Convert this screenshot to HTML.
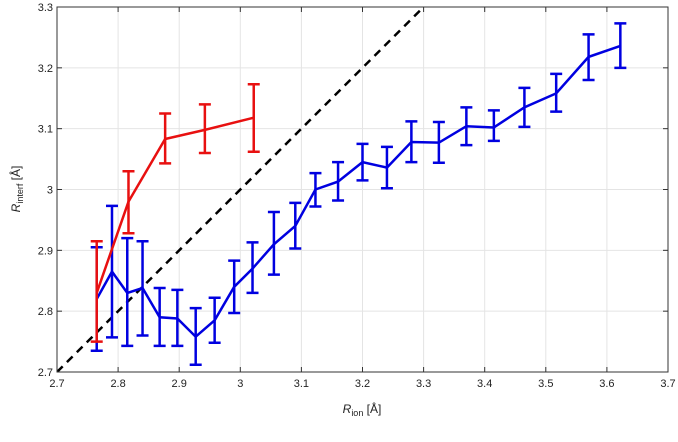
<!DOCTYPE html>
<html><head><meta charset="utf-8"><style>
body{margin:0;background:#fff;font-family:"Liberation Sans",sans-serif}
text{font-family:"Liberation Sans",sans-serif;fill:#222}
</style></head><body>
<svg id="chart" width="678" height="419" viewBox="0 0 678 419" xmlns="http://www.w3.org/2000/svg"></svg>
<script>
const xTicks=[2.7,2.8,2.9,3,3.1,3.2,3.3,3.4,3.5,3.6,3.7];
const xTickLabels=["2.7","2.8","2.9","3","3.1","3.2","3.3","3.4","3.5","3.6","3.7"];
const yTicks=[2.7,2.8,2.9,3,3.1,3.2,3.3];
const yTickLabels=["2.7","2.8","2.9","3","3.1","3.2","3.3"];
const blueX=[2.765,2.79,2.815,2.84,2.868,2.897,2.927,2.958,2.99,3.02,3.055,3.09,3.123,3.16,3.2,3.24,3.28,3.325,3.37,3.415,3.465,3.517,3.57,3.622];
const blueY=[2.82,2.865,2.83,2.838,2.79,2.788,2.758,2.785,2.84,2.87,2.91,2.94,3.0,3.013,3.045,3.036,3.078,3.077,3.104,3.102,3.135,3.158,3.218,3.236];
const blueLo=[2.735,2.757,2.743,2.76,2.743,2.743,2.712,2.748,2.797,2.83,2.86,2.903,2.972,2.982,3.015,3.002,3.045,3.044,3.073,3.08,3.103,3.128,3.18,3.2];
const blueHi=[2.905,2.973,2.92,2.915,2.838,2.835,2.805,2.822,2.883,2.913,2.963,2.978,3.027,3.045,3.075,3.07,3.112,3.111,3.135,3.13,3.167,3.19,3.255,3.273];
const redX=[2.765,2.817,2.877,2.942,3.022];
const redY=[2.83,2.98,3.083,3.098,3.118];
const redLo=[2.75,2.928,3.043,3.06,3.062];
const redHi=[2.915,3.03,3.125,3.14,3.173];
const X0=57,X1=668,Y0=372,Y1=7;
const sx=v=>X0+(v-2.7)/(3.7-2.7)*(X1-X0);
const sy=v=>Y0-(v-2.7)/(3.3-2.7)*(Y0-Y1);
const svg=document.getElementById('chart');
const NS='http://www.w3.org/2000/svg';
function mk(tag,at,parent){const e=document.createElementNS(NS,tag);for(const k in at)e.setAttribute(k,at[k]);(parent||svg).appendChild(e);return e;}
// grid
xTicks.forEach((t,i)=>{
  const g=mk('line',{x1:sx(t),x2:sx(t),y1:Y1,y2:Y0,stroke:'#e4e4e4','stroke-width':1});
  
  
  const tk=mk('line',{x1:sx(t),x2:sx(t),y1:Y0,y2:Y0-5,stroke:'#333'});
  
  
  const tk2=mk('line',{x1:sx(t),x2:sx(t),y1:Y1,y2:Y1+5,stroke:'#333'});
  
  
  const l=mk('text',{x:sx(t),y:Y0+15,'text-anchor':'middle','font-size':11});
  l.textContent=xTickLabels[i];
  
  
});
yTicks.forEach((t,i)=>{
  const g=mk('line',{x1:X0,x2:X1,y1:sy(t),y2:sy(t),stroke:'#e4e4e4','stroke-width':1});
  
  
  const tk=mk('line',{x1:X0,x2:X0+5,y1:sy(t),y2:sy(t),stroke:'#333'});
  
  
  const tk2=mk('line',{x1:X1,x2:X1-5,y1:sy(t),y2:sy(t),stroke:'#333'});
  
  
  const l=mk('text',{x:X0-4,y:sy(t)+4,'text-anchor':'end','font-size':11});
  l.textContent=yTickLabels[i];
  
  
});
// diagonal
const cp=mk('clipPath',{id:'clip'});mk('rect',{x:X0,y:Y1,width:X1-X0,height:Y0-Y1},cp);
const d=mk('line',{x1:sx(2.7),y1:sy(2.7),x2:sx(3.3),y2:sy(3.3),stroke:'#000','stroke-width':2.5,'stroke-dasharray':'8,6','clip-path':'url(#clip)'});


function series(xs,ys,lo,hi,color,name){
  const pts=xs.map((x,i)=>sx(x)+','+sy(ys[i])).join(' ');
  const pl=mk('polyline',{points:pts,fill:'none',stroke:color,'stroke-width':2.5});
  
  
  xs.forEach((x,i)=>{
    const cx=sx(x),w=6;
    const p=mk('path',{d:`M${cx},${sy(lo[i])}V${sy(hi[i])}M${cx-w},${sy(lo[i])}H${cx+w}M${cx-w},${sy(hi[i])}H${cx+w}`,stroke:color,'stroke-width':2.5,fill:'none'});
    
    
  });
}
series(blueX,blueY,blueLo,blueHi,'#0000e0','blue-series');
series(redX,redY,redLo,redHi,'#e81010','red-series');
const fr=mk('rect',{x:X0,y:Y1,width:X1-X0,height:Y0-Y1,fill:'none',stroke:'#333','stroke-width':1});


</script>
<svg width="0" height="0"></svg>
<div style="position:absolute;left:0;top:0;width:678px;height:419px;pointer-events:none">
<svg width="678" height="419" style="position:absolute;left:0;top:0">
<text x="362" y="413" text-anchor="middle" font-size="12" style="font-family:'Liberation Sans',sans-serif;fill:#222"><tspan font-style="italic">R</tspan><tspan font-size="9" dy="3">ion</tspan><tspan dy="-3"> [Å]</tspan></text>
<text transform="translate(20,189) rotate(-90)" text-anchor="middle" font-size="12" style="font-family:'Liberation Sans',sans-serif;fill:#222"><tspan font-style="italic">R</tspan><tspan font-size="9" dy="3">interf</tspan><tspan dy="-3"> [Å]</tspan></text>
</svg></div>
</body></html>
